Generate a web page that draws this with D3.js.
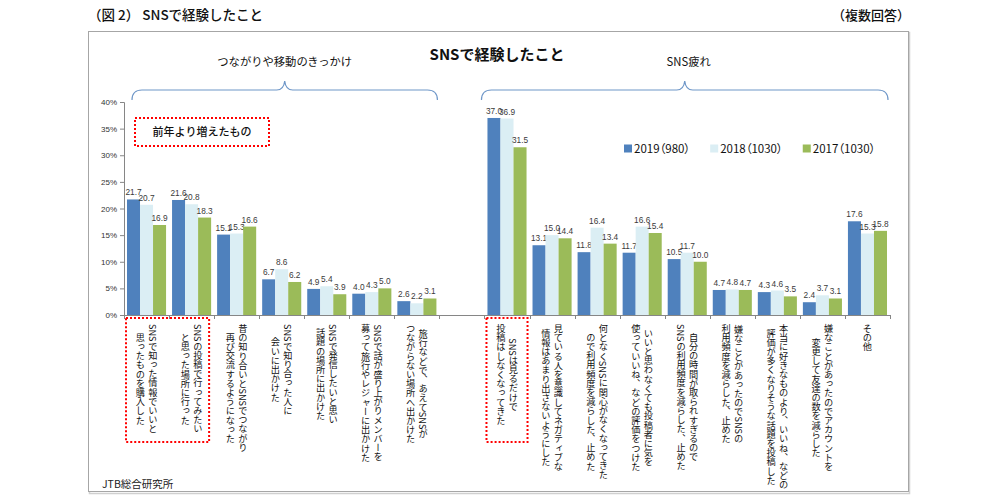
<!DOCTYPE html>
<html>
<head>
<meta charset="utf-8">
<script src="https://cdn.jsdelivr.net/npm/d3@7"></script>
<style>
  body { margin: 0; background: #fff; }
  svg { display: block; font-family: "Noto Sans CJK JP", "Noto Sans", sans-serif; }
</style>
</head>
<body>
<div id="chart"></div>
<script>
// SNSで経験したこと — grouped bars, 3 survey years
const categories = [
  'SNSで知った情報でいいと\n思ったものを購入した',
  'SNSの投稿で行ってみたい\nと思った場所に行った',
  '昔の知り合いとSNSでつながり\n再び交流するようになった',
  'SNSで知り合った人に\n会いに出かけた',
  'SNSで発信したいと思い\n話題の場所に出かけた',
  'SNSで話が盛り上がりメンバーを\n募って旅行やレジャーに出かけた',
  '旅行などで、あえてSNSが\nつながらない場所へ出かけた',
  '',
  'SNSは見るだけで\n投稿はしなくなってきた',
  '見ている人を意識してネガティブな\n情報はあまり出さないようにした',
  '何となくSNSに関心がなくなってきた\nので利用頻度を減らした、止めた',
  'いいと思わなくても投稿者に気を\n使っていいね、などの評価をつけた',
  '自分の時間が取られすぎるので\nSNSの利用頻度を減らした、止めた',
  '嫌なことがあったのでSNSの\n利用頻度を減らした、止めた',
  '本当に好きなものより、いいね、などの\n評価が多くなりそうな話題を投稿した',
  '嫌なことがあったのでアカウントを\n変更して友達の数を減らした',
  'その他'
];
const seriesNames = ['2019（980）', '2018（1030）', '2017（1030）'];
const values2019 = [21.7, 21.6, 15.1, 6.7, 4.9, 4.0, 2.6, null, 37.0, 13.1, 11.8, 11.7, 10.5, 4.7, 4.3, 2.4, 17.6];
const values2018 = [20.7, 20.8, 15.3, 8.6, 5.4, 4.3, 2.2, null, 36.9, 15.0, 16.4, 16.6, 11.7, 4.8, 4.6, 3.7, 15.3];
const values2017 = [16.9, 18.3, 16.6, 6.2, 3.9, 5.0, 3.1, null, 31.5, 14.4, 13.4, 15.4, 10.0, 4.7, 3.5, 3.1, 15.8];
const yTicks = [0, 5, 10, 15, 20, 25, 30, 35, 40];
const groupNames = ['つながりや移動のきっかけ', 'SNS疲れ'];
const groupRanges = [[0, 6], [8, 16]];   // category index ranges under each brace
const highlighted = [[0, 1], [8, 8]];    // category ranges boxed in red

const colors = ['#4f81bd', '#dbeef4', '#9bbb59'];
const allValues = [values2019, values2018, values2017];

const W = 1000, H = 500;
const svg = d3.select('#chart').append('svg').attr('width', W).attr('height', H);

// frame
svg.append('rect').attr('x', 89.5).attr('y', 32.5).attr('width', 820).attr('height', 461)
  .attr('fill', 'none').attr('stroke', '#d0d0d0').attr('stroke-width', 1.5);
svg.append('rect').attr('x', 88.5).attr('y', 31.5).attr('width', 820).attr('height', 460)
  .attr('fill', '#fff').attr('stroke', '#a6a6a6');

// header texts
svg.append('text').attr('x', 88).attr('y', 20).attr('font-size', 13.5).attr('font-weight', 500)
  .attr('fill', '#111').text('（図 2） SNSで経験したこと');
svg.append('text').attr('x', 910).attr('y', 20).attr('font-size', 13).attr('font-weight', 500)
  .attr('fill', '#111').attr('text-anchor', 'end').text('（複数回答）');
svg.append('text').attr('x', 497).attr('y', 60).attr('font-size', 15).attr('font-weight', 700)
  .attr('text-anchor', 'middle').attr('fill', '#111').text('SNSで経験したこと');
svg.append('text').attr('x', 102).attr('y', 488).attr('font-size', 10.5).attr('fill', '#222')
  .text('JTB総合研究所');

// scales
const x0 = d3.scaleBand().domain(d3.range(categories.length)).range([124, 890]).padding(0);
const x1 = d3.scaleBand().domain(d3.range(seriesNames.length)).range([0, x0.bandwidth()])
  .paddingInner(0).paddingOuter(0.23);
const y = d3.scaleLinear().domain([0, 40]).range([315, 102]);
const step = x0.step();

// y axis
const yAxis = svg.append('g').attr('transform', 'translate(124,0)')
  .call(d3.axisLeft(y).tickValues(yTicks).tickFormat(d => d + '%').tickSize(4).tickPadding(3));
yAxis.select('.domain').attr('stroke', '#868686');
yAxis.selectAll('.tick line').attr('stroke', '#868686');
yAxis.selectAll('.tick text').attr('font-family', '"Liberation Sans", Arial, sans-serif')
  .attr('font-size', 8).attr('fill', '#333');

// bars
const bars = svg.append('g');
categories.forEach((c, i) => {
  allValues.forEach((vals, j) => {
    const v = vals[i];
    if (v == null) return;
    bars.append('rect')
      .attr('x', x0(i) + x1(j)).attr('width', x1.bandwidth())
      .attr('y', y(v)).attr('height', y(0) - y(v))
      .attr('fill', colors[j]);
    bars.append('text')
      .attr('x', x0(i) + x1(j) + x1.bandwidth() / 2).attr('y', y(v) - 4)
      .attr('text-anchor', 'middle')
      .attr('font-family', '"Liberation Sans", Arial, sans-serif')
      .attr('font-size', 8.3).attr('fill', '#3a3a3a')
      .text(v.toFixed(1));
  });
});

// x axis line + boundary ticks
const xAxis = svg.append('g').attr('stroke', '#868686');
xAxis.append('line').attr('x1', x0.range()[0]).attr('x2', x0.range()[1])
  .attr('y1', y(0) + 0.5).attr('y2', y(0) + 0.5);
d3.range(categories.length + 1).forEach(i => {
  const tx = Math.round(x0.range()[0] + i * step) + 0.5;
  xAxis.append('line').attr('x1', tx).attr('x2', tx).attr('y1', y(0)).attr('y2', y(0) + 4);
});

// vertical category labels
const labelTop = 324, lineGap = 12.5;
const labels = svg.append('g');
categories.forEach((c, i) => {
  if (!c) return;
  const lines = c.split('\n');
  const cx = x0(i) + x0.bandwidth() / 2;
  const nodes = lines.map((ln, k) => labels.append('text')
    .attr('x', cx + (lines.length - 1) / 2 * lineGap - k * lineGap)
    .attr('y', labelTop)
    .style('writing-mode', 'vertical-rl')
    .attr('font-size', 9.2).attr('fill', '#111')
    .text(ln));
  const maxLen = d3.max(nodes, n => n.node().getComputedTextLength());
  nodes.forEach(n => n.attr('text-anchor', 'middle').attr('y', labelTop + maxLen / 2));
});

// red dotted highlight boxes
highlighted.forEach(([a, b]) => {
  const bx0 = x0(a) + 2, bx1 = x0(b) + step - (a === b ? 2 : 5);
  svg.append('rect').attr('x', bx0).attr('y', 318).attr('width', bx1 - bx0).attr('height', 124)
    .attr('fill', 'none').attr('stroke', '#ff0000').attr('stroke-width', 2)
    .attr('stroke-dasharray', '2,2');
});
svg.append('rect').attr('x', 135).attr('y', 118).attr('width', 134).attr('height', 28)
  .attr('fill', 'none').attr('stroke', '#ff0000').attr('stroke-width', 2)
  .attr('stroke-dasharray', '2,2');
svg.append('text').attr('x', 202).attr('y', 136).attr('text-anchor', 'middle')
  .attr('font-size', 11).attr('font-weight', 500).attr('fill', '#111').text('前年より増えたもの');

// braces + group titles
function brace(xa, xb, yl) {
  const xm = (xa + xb) / 2, p = d3.path();
  p.moveTo(xa, yl + 10);
  p.quadraticCurveTo(xa, yl, xa + 10, yl);
  p.lineTo(xm - 8, yl);
  p.quadraticCurveTo(xm - 1, yl, xm, yl - 9);
  p.quadraticCurveTo(xm + 1, yl, xm + 8, yl);
  p.lineTo(xb - 10, yl);
  p.quadraticCurveTo(xb, yl, xb, yl + 10);
  return p.toString();
}
groupRanges.forEach(([a, b], k) => {
  const xa = k === 0 ? x0(a) + 8 : x0(a) - 3;
  const xb = x0(b) + step - 2;
  svg.append('path').attr('d', brace(xa, xb, 90))
    .attr('fill', 'none').attr('stroke', '#6f97c8').attr('stroke-width', 1.2);
  svg.append('text').attr('x', (xa + xb) / 2 + (k === 0 ? 0 : 4)).attr('y', 66)
    .attr('text-anchor', 'middle').attr('font-size', 11.3).attr('fill', '#111')
    .text(groupNames[k]);
});

// legend
const legend = svg.append('g');
let lx = 624;
seriesNames.forEach((s, j) => {
  legend.append('rect').attr('x', lx).attr('y', 144.5).attr('width', 8).attr('height', 8)
    .attr('fill', colors[j]);
  const t = legend.append('text').attr('x', lx + 10).attr('y', 152.5)
    .attr('font-size', 11.5).attr('fill', '#111')
    .style('font-feature-settings', '"palt"')
    .text(s);
  lx += 10 + t.node().getComputedTextLength() + 20;
});
</script>
</body>
</html>
